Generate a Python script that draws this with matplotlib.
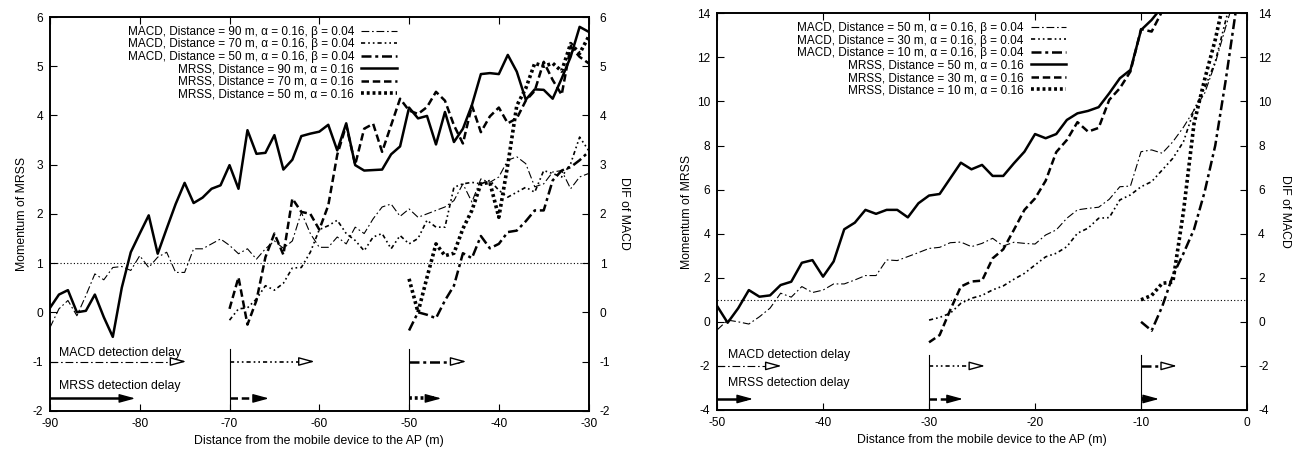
import numpy as np
import matplotlib.pyplot as plt

plt.rcParams['font.family'] = ['Liberation Sans', 'DejaVu Sans']
plt.rcParams['font.size'] = 8.8
plt.rcParams['axes.unicode_minus'] = False

# ---------------- left panel: one sample per metre ----------------
d90 = np.arange(-90, -29)
d70 = np.arange(-70, -29)
d50 = np.arange(-50, -29)

mrss_90 = [0.09, 0.36, 0.45, 0.0, 0.03, 0.36, -0.1, -0.5, 0.5, 1.22,
           1.6, 1.97, 1.19, 1.7, 2.2, 2.63, 2.22, 2.33, 2.51, 2.58,
           2.99, 2.51, 3.70, 3.22, 3.24, 3.6, 2.9, 3.1, 3.58, 3.63,
           3.67, 3.81, 3.29, 3.84, 2.99, 2.88, 2.89, 2.9, 3.21, 3.37,
           4.16, 3.94, 3.99, 3.41, 4.07, 3.46, 3.73, 4.21, 4.84, 4.86,
           4.84, 5.23, 4.89, 4.32, 4.53, 4.52, 4.34, 4.75, 5.19, 5.8, 5.7]
mrss_70 = [0.07, 0.71, -0.25, 0.24, 1.12, 1.6, 1.17, 2.31, 2.04, 2.0,
           1.68, 2.17, 3.2, 3.8, 3.0, 3.73, 3.83, 3.26, 3.8, 4.34,
           4.1, 4.03, 4.17, 4.48, 4.3, 3.8, 3.43, 4.2, 3.66, 3.98,
           4.16, 3.84, 3.94, 4.3, 4.5, 5.09, 4.72, 4.42, 5.4, 5.19, 5.06]
mrss_50 = [0.68, 0.0, 0.71, 1.39, 1.15, 1.2, 1.7, 2.07, 2.61, 2.64,
           1.93, 3.0, 4.2, 4.55, 5.06, 5.0, 5.06, 4.9, 5.46, 5.26, 5.6]
macd_90 = [-0.31, 0.07, 0.24, -0.07, 0.34, 0.78, 0.66, 0.91, 0.93, 0.85,
           1.15, 0.91, 1.12, 1.22, 0.81, 0.81, 1.29, 1.29, 1.39, 1.49,
           1.36, 1.19, 1.29, 1.08, 1.29, 1.45, 1.3, 1.45, 2.03, 1.6,
           1.32, 1.32, 1.53, 1.39, 1.73, 1.6, 1.9, 2.14, 2.2, 1.95,
           2.1, 1.93, 2.0, 2.07, 2.14, 2.27, 2.61, 2.24, 2.71, 2.64,
           2.75, 3.09, 3.16, 3.02, 2.55, 2.61, 2.85, 2.88, 2.51, 2.75, 2.82]
macd_70 = [-0.16, 0.07, 0.09, 0.27, 0.54, 0.45, 0.59, 0.9, 0.91, 1.22,
           1.68, 1.76, 1.87, 1.6, 1.46, 1.25, 1.53, 1.6, 1.29, 1.56,
           1.39, 1.5, 1.87, 1.73, 1.73, 2.54, 2.61, 2.64, 2.61, 2.68,
           2.48, 2.34, 2.44, 2.54, 2.44, 2.88, 2.82, 2.75, 3.02, 3.56, 3.29]
macd_50 = [-0.37, 0.0, -0.05, -0.12, 0.24, 0.54, 1.2, 1.1, 1.55, 1.3,
           1.39, 1.63, 1.66, 1.85, 2.07, 2.07, 2.68, 2.88, 2.95, 3.09, 3.26]

# ---------------- right panel ----------------
e50 = np.arange(-50, 1)
e30 = np.arange(-30, 1)
e10 = np.arange(-10, 1)

mrss_50r = [0.72, -0.04, 0.62, 1.44, 1.14, 1.2, 1.67, 1.82, 2.68, 2.8,
            2.05, 2.74, 4.2, 4.5, 5.08, 4.9, 5.08, 5.08, 4.74, 5.38,
            5.73, 5.8, 6.51, 7.22, 6.92, 7.12, 6.62, 6.62, 7.19, 7.72,
            8.52, 8.33, 8.52, 9.16, 9.46, 9.57, 9.74, 10.37, 11.05, 11.43,
            13.24, 13.7, 14.3, 15.0, 15.5, 16.0, 16.5, 17.0, 17.5, 18.0, 18.5]
mrss_30r = [-0.93, -0.6, 0.54, 1.6, 1.83, 1.87, 2.88, 3.29, 4.17, 5.08,
            5.6, 6.4, 7.7, 8.25, 9.06, 8.63, 8.8, 10.07, 10.6, 11.36,
            13.28, 13.17, 14.1, 15.0, 15.5, 16.0, 16.5, 17.0, 17.5, 18.0, 18.5]
mrss_10r = [1.0, 1.2, 1.75, 1.8, 5.0, 9.0, 11.0, 12.8, 15.0, 17.0, 19.0]
macd_50r = [-0.37, 0.08, 0.0, -0.1, 0.23, 0.62, 1.3, 1.12, 1.6, 1.33,
            1.44, 1.72, 1.72, 1.9, 2.1, 2.1, 2.81, 2.78, 2.96, 3.14,
            3.33, 3.38, 3.59, 3.62, 3.41, 3.56, 3.79, 3.44, 3.61, 3.56,
            3.53, 3.94, 4.17, 4.7, 5.08, 5.15, 5.2, 5.56, 6.13, 6.16,
            7.72, 7.8, 7.65, 8.17, 8.83, 9.61, 10.37, 11.73, 13.4, 15.0, 16.0]
macd_30r = [0.08, 0.2, 0.39, 0.84, 1.07, 1.2, 1.45, 1.63, 1.93, 2.2,
            2.58, 2.95, 3.11, 3.41, 4.02, 4.25, 4.7, 4.73, 5.53, 5.76,
            6.13, 6.36, 6.89, 7.42, 8.17, 9.61, 10.6, 11.8, 13.7, 15.5, 17.0]
macd_10r = [0.0, -0.4, 0.7, 2.1, 3.1, 4.2, 5.9, 8.0, 11.0, 14.3, 17.0]

# detection delays: (start, MACD end, MRSS end)
left_delays = [(-90, -74.8, -80.5), (-70, -60.5, -65.6), (-50, -43.6, -46.4)]
right_delays = [(-50, -43.9, -46.6), (-30, -24.7, -26.8), (-10, -6.6, -8.3)]

# line styles (gnuplot-like)
st_macd = [dict(lw=0.8, dashes=(7, 2.5, 1.5, 2.5)),
           dict(lw=1.2, dashes=(2.5, 1.8, 1, 1.8, 1, 1.8)),
           dict(lw=1.8, dashes=(4, 1.5, 1.2, 1.5))]
st_mrss = [dict(lw=1.8, linestyle='-'),
           dict(lw=1.8, dashes=(3, 1.5)),
           dict(lw=2.6, dashes=(0.8, 0.8))]


def delay_arrow(ax, x0, x1, y, style, fc, hl):
    ax.plot([x0, x1 - hl * 0.6], [y, y], color='k', **style)
    ax.annotate('', xy=(x1, y), xytext=(x1 - hl, y),
                arrowprops=dict(arrowstyle='-|>,head_length=1.1,head_width=0.3',
                                lw=1, color='k', fc=fc, shrinkA=0, shrinkB=0))


def panel(ax, xs, macd, mrss, dists, delays, xlim, ylim, step, y_macd, y_mrss,
          txt_y, hl, anchor):
    for i in range(3):
        ax.plot(xs[i], macd[i], color='k',
                label='MACD, Distance = %d m, \u03b1 = 0.16, \u03b2 = 0.04' % dists[i],
                **st_macd[i])
    for i in range(3):
        ax.plot(xs[i], mrss[i], color='k',
                label='MRSS, Distance = %d m, \u03b1 = 0.16' % dists[i],
                **st_mrss[i])
    ax.axhline(1, color='k', lw=0.8, dashes=(1, 2))

    for i, (x0, xm, xr) in enumerate(delays):
        if i > 0:
            ax.plot([x0, x0], [ylim[0], y_macd + 0.25 * step], color='k', lw=0.8)
        delay_arrow(ax, x0, xm, y_macd, st_macd[i], 'white', hl)
        delay_arrow(ax, x0, xr, y_mrss, st_mrss[i], 'k', hl)
    ax.text(xlim[0] + 1, txt_y[0], 'MACD detection delay', va='center')
    ax.text(xlim[0] + 1, txt_y[1], 'MRSS detection delay', va='center')

    ax.set_xlim(xlim)
    ax.set_ylim(ylim)
    ax.set_xticks(np.arange(xlim[0], xlim[1] + 1, 10))
    ax.set_yticks(np.arange(ylim[0], ylim[1] + 0.1, step))
    ax.tick_params(direction='in', top=True, right=False, length=5, width=0.8,
                   pad=5, labelsize=8.6)
    for s in ax.spines.values():
        s.set_linewidth(1.2)
    ax.set_xlabel('Distance from the mobile device to the AP (m)', labelpad=4)
    ax.set_ylabel('Momentum of MRSS', labelpad=3)
    ax.legend(loc='upper right', bbox_to_anchor=(anchor, 1.0), frameon=False,
              markerfirst=False, handlelength=3.0, handletextpad=0.6,
              labelspacing=0.04, borderpad=0.3, borderaxespad=0.45, fontsize=8.5)

    ax2 = ax.twinx()
    ax2.set_ylim(ylim)
    ax2.set_yticks(np.arange(ylim[0], ylim[1] + 0.1, step))
    ax2.tick_params(direction='in', length=5, width=0.8, pad=8, labelsize=8.6)
    ax2.set_ylabel('DIF of MACD', rotation=270, labelpad=14)
    for s in ax2.spines.values():
        s.set_linewidth(1.2)


fig = plt.figure(figsize=(13.08, 4.5), dpi=100)
ax_l = fig.add_axes([0.0382, 0.0873, 0.4118, 0.8749])
ax_r = fig.add_axes([0.5482, 0.0889, 0.4052, 0.8816])

panel(ax_l, [d90, d70, d50], [macd_90, macd_70, macd_50],
      [mrss_90, mrss_70, mrss_50], [90, 70, 50], left_delays,
      (-90, -30), (-2, 6), 1, -1.0, -1.75, (-0.82, -1.49), 1.4, 0.66)
panel(ax_r, [e50, e30, e10], [macd_50r, macd_30r, macd_10r],
      [mrss_50r, mrss_30r, mrss_10r], [50, 30, 10], right_delays,
      (-50, 0), (-4, 14), 2, -2.0, -3.5, (-1.5, -2.79), 1.2, 0.675)

fig.savefig('out.png', dpi=100)
